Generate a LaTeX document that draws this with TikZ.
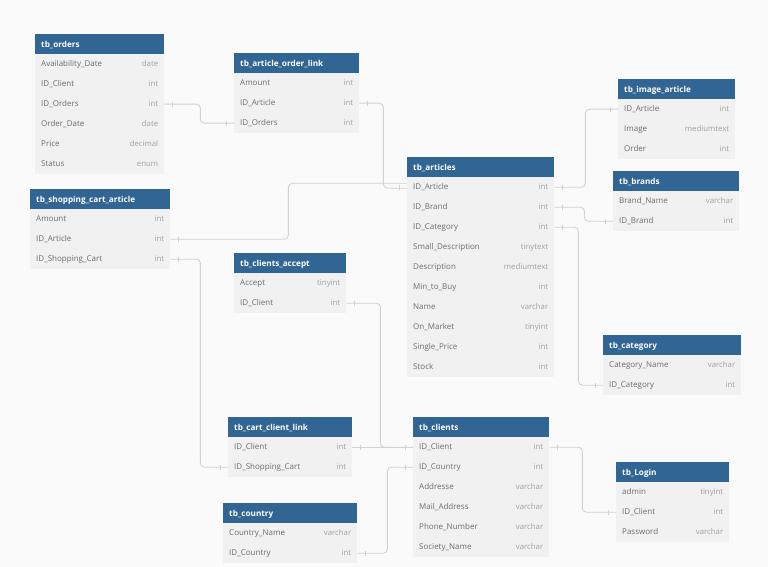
\documentclass[tikz,border=0pt]{standalone}
\usepackage{fontspec}
\setmainfont{Open Sans}
\usetikzlibrary{calc}
\definecolor{hdrblue}{HTML}{316594}
\definecolor{rowgray}{HTML}{F1F1F1}
\definecolor{bggray}{HTML}{FAFAFA}
\definecolor{nametxt}{HTML}{6C6C6C}
\definecolor{typetxt}{HTML}{A0A0A0}
\definecolor{linkgray}{HTML}{D2D2D2}
\tikzset{
  hdr/.style={fill=hdrblue, inner sep=0pt, minimum height=20pt, anchor=north west},
  rowbox/.style={fill=rowgray, inner sep=0pt, minimum height=20pt, anchor=north west},
  hdrtxt/.style={text=white, font=\fontsize{8.2}{9}\selectfont\bfseries, inner sep=0pt, anchor=base west},
  rowname/.style={text=nametxt, font=\fontsize{8}{9}\selectfont, inner sep=0pt, anchor=base west},
  rowtype/.style={text=typetxt, font=\fontsize{7.8}{9}\selectfont, inner sep=0pt, anchor=base east},
  link/.style={draw=linkgray, line width=0.9pt, rounded corners=4pt},
  tick/.style={draw=linkgray, line width=0.7pt}
}
\newcommand\dbtable[6]{%
  \node[hdr, minimum width=#4pt] (#1) at (#2,#3) {};
  \node[hdrtxt] (#1-title) at ($(#1.west)+(6,3)$) {#5};
  \foreach \nm/\ty [count=\i] in {#6} {
    \node[rowbox, minimum width=#4pt] (#1-\i) at (#2,{#3+20*\i}) {};
    \node[rowname] (#1-\i-n) at ($(#1-\i.west)+(6,2.5)$) {\nm};
    \node[rowtype] (#1-\i-t) at ($(#1-\i.east)+(-6,2.5)$) {\ty};
  }%
}
\newcommand\tickE[1]{\draw[tick] ($(#1.east)+(8,-2.5)$) -- ++(0,5);}
\newcommand\tickW[1]{\draw[tick] ($(#1.west)+(-8,-2.5)$) -- ++(0,5);}
\begin{document}
\begin{tikzpicture}[x=1pt,y=-1pt]
\fill[bggray] (0,0) rectangle (768,567);
\useasboundingbox (0,0) rectangle (768,567);

\dbtable{orders}{35}{34}{129}{tb\_orders}{Availability\_Date/date, ID\_Client/int, ID\_Orders/int, Order\_Date/date, Price/decimal, Status/enum}
\dbtable{aol}{234}{53}{125}{tb\_article\_order\_link}{Amount/int, ID\_Article/int, ID\_Orders/int}
\dbtable{sca}{30}{189}{140}{tb\_shopping\_cart\_article}{Amount/int, ID\_Article/int, ID\_Shopping\_Cart/int}
\dbtable{art}{407}{157}{147}{tb\_articles}{ID\_Article/int, ID\_Brand/int, ID\_Category/int, Small\_Description/tinytext, Description/mediumtext, Min\_to\_Buy/int, Name/varchar, On\_Market/tinyint, Single\_Price/int, Stock/int}
\dbtable{img}{618}{79}{117}{tb\_image\_article}{ID\_Article/int, Image/mediumtext, Order/int}
\dbtable{brands}{613}{171}{126}{tb\_brands}{Brand\_Name/varchar, ID\_Brand/int}
\dbtable{cat}{603}{335}{138}{tb\_category}{Category\_Name/varchar, ID\_Category/int}
\dbtable{ca}{234}{253}{112}{tb\_clients\_accept}{Accept/tinyint, ID\_Client/int}
\dbtable{ccl}{228}{417}{124}{tb\_cart\_client\_link}{ID\_Client/int, ID\_Shopping\_Cart/int}
\dbtable{cty}{223}{503}{134}{tb\_country}{Country\_Name/varchar, ID\_Country/int}
\dbtable{cli}{413}{417}{136}{tb\_clients}{ID\_Client/int, ID\_Country/int, Addresse/varchar, Mail\_Address/varchar, Phone\_Number/varchar, Society\_Name/varchar}
\dbtable{login}{616}{462}{113}{tb\_Login}{admin/tinyint, ID\_Client/int, Password/varchar}

% connectors
\draw[link] (orders-3.east) -- ++(36,0) |- (aol-3.west);
\draw[link] (aol-2.east) -- ++(24,0) |- ($(art-1.west)+(0,1)$);
\draw[link] (sca-2.east) -- ++(118,0) |- ($(art-1.west)+(0,-4)$);
\draw[link] (art-1.east) -- ++(31,0) |- (img-1.west);
\draw[link] (art-2.east) -- ++(30,0) |- (brands-2.west);
\draw[link] (art-3.east) -- ++(24,0) |- (cat-2.west);
\draw[link] (sca-3.east) -- ++(30,0) |- (ccl-2.west);
\draw[link] (ca-2.east) -- ++(34,0) |- (cli-1.west);
\draw[link] (ccl-1.east) -- (cli-1.west);
\draw[link] (cty-2.east) -- ++(30,0) |- (cli-2.west);
\draw[link] (cli-1.east) -- ++(33,0) |- (login-2.west);

% end marks
\tickE{orders-3} \tickW{aol-3}
\tickE{aol-2} \tickW{art-1}
\tickE{sca-2}
\tickE{art-1} \tickW{img-1}
\tickE{art-2} \tickW{brands-2}
\tickE{art-3} \tickW{cat-2}
\tickE{sca-3} \tickW{ccl-2}
\tickE{ca-2} \tickW{cli-1}
\tickE{ccl-1}
\tickE{cty-2} \tickW{cli-2}
\tickE{cli-1} \tickW{login-2}
\end{tikzpicture}
\end{document}
